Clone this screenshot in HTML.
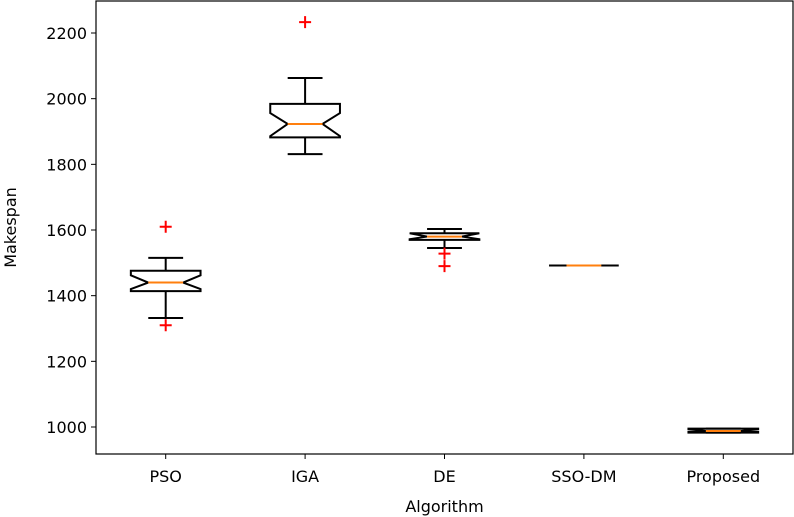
<!DOCTYPE html>
<html><head><meta charset="utf-8"><style>
body{margin:0;background:#fff;}
svg{display:block;font-family:"DejaVu Sans","Liberation Sans",sans-serif;}
</style></head><body>
<svg id="chart" width="794" height="517" viewBox="0 0 794 517" xmlns="http://www.w3.org/2000/svg">
<g id="plot"></g>
</svg>
<script>
const categories = ["PSO","IGA","DE","SSO-DM","Proposed"];
const whiskerLo = [1332,1831,1545,1492,983];
const q1 = [1414,1882,1570,1492,983];
const notchLo = [1420,1886,1572,1492,985];
const median = [1440,1923,1580,1492,988];
const notchHi = [1462,1956,1590,1492,993];
const q3 = [1476,1984,1590,1492,995];
const whiskerHi = [1515,2063,1603,1492,995];
const outliers = [[1610,1310],[2233],[1528,1490],[],[]];
const yTicks = [1000,1200,1400,1600,1800,2000,2200];

const L=96,R=793,T=1,B=454;
const yMin=1000-(454-427)/0.32833, yMax=1000+(427-1)/0.32833;
const y=v=>B-(v-yMin)/(yMax-yMin)*(B-T);
const step=(R-L)/categories.length;
const x=i=>L+step*(i+0.5);
const NS="http://www.w3.org/2000/svg";
const g=document.getElementById('plot');
function mk(tag,attrs){const e=document.createElementNS(NS,tag);for(const k in attrs)e.setAttribute(k,attrs[k]);g.appendChild(e);return e;}

categories.forEach((c,i)=>{
  const cx=x(i), hw=step*0.25, nw=hw*0.5;
  const w1=mk('line',{x1:cx,x2:cx,y1:y(whiskerLo[i]),y2:y(q1[i]),stroke:'#000','stroke-width':2});
  
  
  const w2=mk('line',{x1:cx,x2:cx,y1:y(whiskerHi[i]),y2:y(q3[i]),stroke:'#000','stroke-width':2});
  
  
  [whiskerLo[i],whiskerHi[i]].forEach(v=>{
    const cap=mk('line',{x1:cx-nw,x2:cx+nw,y1:y(v),y2:y(v),stroke:'#000','stroke-width':2});
    
    
  });
  const pts=[[cx-hw,y(q1[i])],[cx+hw,y(q1[i])],[cx+hw,y(notchLo[i])],[cx+nw,y(median[i])],[cx+hw,y(notchHi[i])],[cx+hw,y(q3[i])],[cx-hw,y(q3[i])],[cx-hw,y(notchHi[i])],[cx-nw,y(median[i])],[cx-hw,y(notchLo[i])]];
  const box=mk('polygon',{points:pts.map(p=>p.join(',')).join(' '),fill:'none',stroke:'#000','stroke-width':2,'stroke-linejoin':'miter'});
  
  
  const m=mk('line',{x1:cx-nw,x2:cx+nw,y1:y(median[i]),y2:y(median[i]),stroke:'#ff7f0e','stroke-width':2});
  
  
  outliers[i].forEach(v=>{
    const o=mk('path',{d:`M${cx-6},${y(v)}h12M${cx},${y(v)-6}v12`,stroke:'#ff0000','stroke-width':2,fill:'none'});
    
    
  });
  const tk=mk('line',{x1:cx,x2:cx,y1:B,y2:B+5,stroke:'#000','stroke-width':1});
  
  
  const tl=mk('text',{x:cx,y:B+28,'text-anchor':'middle','font-size':16,fill:'#000'});
  tl.textContent=c;
  
  
});
yTicks.forEach(v=>{
  const tk=mk('line',{x1:L-5,x2:L,y1:y(v),y2:y(v),stroke:'#000','stroke-width':1});
  
  
  const tl=mk('text',{x:L-9,y:y(v)+6,'text-anchor':'end','font-size':16,fill:'#000'});
  tl.textContent=v;
  
  
});
const frame=mk('rect',{x:L,y:T,width:R-L,height:B-T,fill:'none',stroke:'#000','stroke-width':1.2});


const xt=mk('text',{x:(L+R)/2,y:512,'text-anchor':'middle','font-size':16,fill:'#000'});
xt.textContent='Algorithm';


const yt=mk('text',{x:0,y:0,'text-anchor':'middle','font-size':16,fill:'#000',transform:`translate(16,${(T+B)/2}) rotate(-90)`});
yt.textContent='Makespan';


</script>
</body></html>
